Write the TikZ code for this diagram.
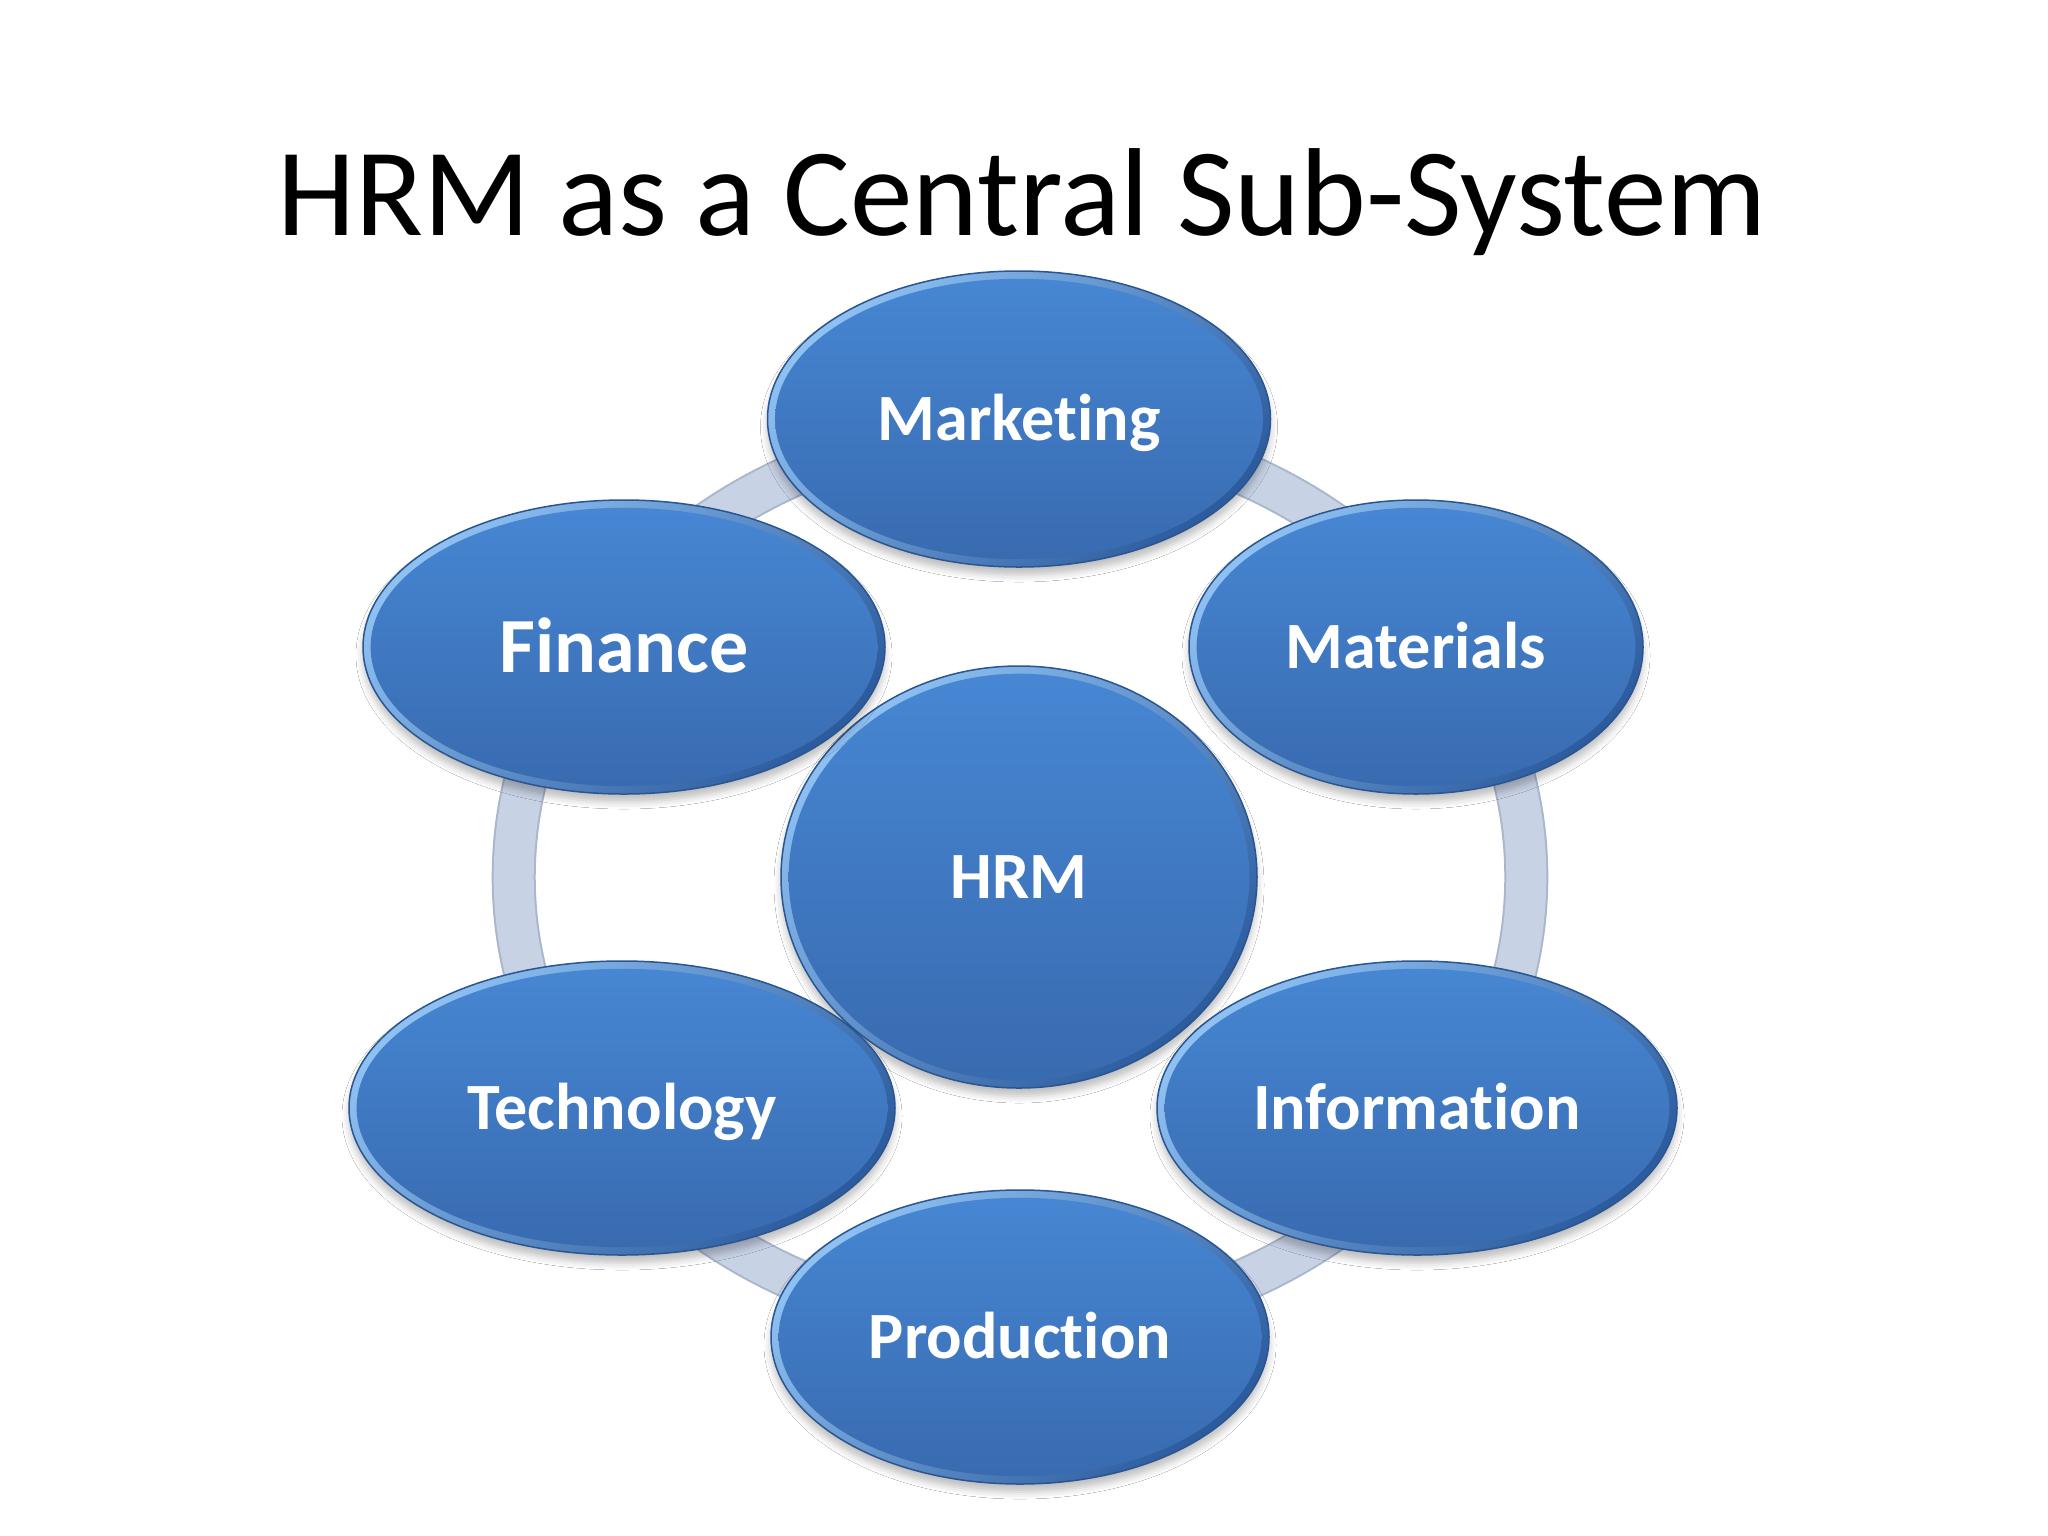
\documentclass[tikz,border=0pt]{standalone}
\usepackage{fontspec}
\setmainfont{Carlito}[Ligatures=NoCommon]
\usetikzlibrary{shapes.geometric,shadows.blur}
\definecolor{rimlight}{HTML}{8EC0F2}
\definecolor{rimdark}{HTML}{2C5C9E}
\definecolor{filltop}{HTML}{4787D4}
\definecolor{fillbot}{HTML}{386AAF}
\definecolor{edgeblue}{HTML}{2A5590}
\definecolor{ringfill}{HTML}{C8D2E5}
\definecolor{ringedge}{HTML}{A9B6CC}
\tikzset{
  bubble/.style n args={2}{ellipse, minimum width=#1*0.01cm, minimum height=#2*0.01cm, inner sep=0pt,
    top color=rimlight, bottom color=rimdark, shading angle=45,
    draw=edgeblue, line width=0.015cm,
    blur shadow={shadow xshift=0cm, shadow yshift=-0.08cm, shadow blur radius=0.07cm, shadow opacity=25},
    path picture={\shade[top color=filltop, bottom color=fillbot] (path picture bounding box.center) ellipse [x radius=#1*0.005cm-0.08cm, y radius=#2*0.005cm-0.08cm];},
    text=white, font=\bfseries\fontsize{18.8pt}{22pt}\selectfont, text height=12.1pt, text depth=0pt},
  bigtext/.style={font=\bfseries\fontsize{22.2pt}{26pt}\selectfont, text height=14.3pt, text depth=0pt},
  titletext/.style={font=\fontsize{35.6pt}{40pt}\selectfont, anchor=base, inner sep=0pt}
}
\begin{document}
\begin{tikzpicture}[x=0.01cm, y=-0.01cm]
\useasboundingbox (0,0) rectangle (2048,1536);
\fill[white] (0,0) rectangle (2048,1536);
\node[titletext] (title) at (1022,235) {HRM as a Central Sub-System};
% ring
\draw[ringedge, line width=0.44cm] (1020,877) ellipse [x radius=5.06cm, y radius=4.49cm];
\draw[ringfill, line width=0.40cm] (1020,877) ellipse [x radius=5.06cm, y radius=4.49cm];
% nodes
\node[bubble={476}{422}] (hrm) at (1019,877) {HRM};
\node[bubble={503}{296}] (mkt) at (1019,419) {Marketing};
\node[bubble={522}{294}, bigtext] (fin) at (624,647) {Finance};
\node[bubble={454}{294}] (mat) at (1416,647) {Materials};
\node[bubble={546}{294}] (tech) at (622,1108) {Technology};
\node[bubble={520}{294}] (info) at (1417,1108) {Information};
\node[bubble={498}{294}] (prod) at (1020,1337) {Production};
\end{tikzpicture}
\end{document}
